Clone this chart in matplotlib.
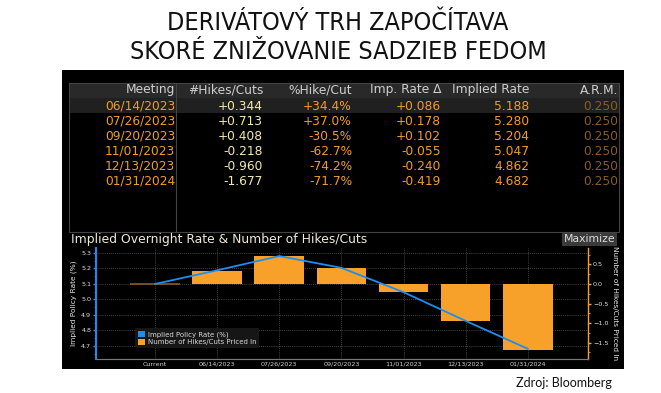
import matplotlib
matplotlib.use("Agg")
import matplotlib.pyplot as plt
from matplotlib import font_manager as fm
from matplotlib.patches import Rectangle, Patch
from matplotlib.ticker import MultipleLocator

# Slide texts
title_lines = ["DERIVÁTOVÝ TRH ZAPOČÍTAVA", "SKORÉ ZNIŽOVANIE SADZIEB FEDOM"]
source_text = "Zdroj: Bloomberg"

# Table data (Bloomberg WIRP)
headers = ["Meeting", "#Hikes/Cuts", "%Hike/Cut", "Imp. Rate Δ", "Implied Rate", "A.R.M."]
meetings = ["06/14/2023", "07/26/2023", "09/20/2023", "11/01/2023", "12/13/2023", "01/31/2024"]
hikes = [0.344, 0.713, 0.408, -0.218, -0.960, -1.677]
pct_hike = [34.4, 37.0, -30.5, -62.7, -74.2, -71.7]
rate_delta = [0.086, 0.178, 0.102, -0.055, -0.240, -0.419]
implied_rate = [5.188, 5.280, 5.204, 5.047, 4.862, 4.682]
arm = [0.250, 0.250, 0.250, 0.250, 0.250, 0.250]

# Chart data
chart_labels = ["Current"] + meetings
current_rate = 5.10
current_hikes = 0.0

ORANGE = "#f7a12a"
BLUE = "#1b8ef2"
TXT = "#f39c25"

# the slide title is in a narrow font; use a condensed face if there is one
title_font = dict(family="Lato", fontsize=17)
for f in fm.fontManager.ttflist:
    if f.name == "Liberation Sans Narrow":
        title_font = dict(family="Liberation Sans Narrow", fontsize=19.5)
        break
    if f.name == "DejaVu Sans" and "Condensed" in f.fname:
        title_font = dict(family="DejaVu Sans", stretch="condensed", fontsize=18)

fig = plt.figure(figsize=(6.61, 3.93), dpi=100)
fig.patch.set_facecolor("white")

# pixel-coordinate canvas for the slide and the terminal panel
bg = fig.add_axes([0, 0, 1, 1])
bg.set_xlim(0, 661)
bg.set_ylim(393, 0)
bg.axis("off")

for i, line in enumerate(title_lines):
    bg.text(338, 22.5 + 29.5 * i, line, ha="center", va="center",
            color="#111111", **title_font)
bg.text(612, 383, source_text, ha="right", va="center",
        fontsize=9, family="Lato", color="#111111")

bg.add_patch(Rectangle((62, 70), 562, 299, facecolor="black", edgecolor="none"))
bg.add_patch(Rectangle((69, 83), 550, 15, facecolor="#292929", edgecolor="none"))
bg.add_patch(Rectangle((69, 98), 550, 15, facecolor="#202020", edgecolor="none"))
bg.add_patch(Rectangle((69, 83), 550, 149, facecolor="none", edgecolor="#444444", lw=0.8))
bg.plot([176, 176], [83, 232], color="#444444", lw=0.8)

col_right = [175, 263, 352, 441, 529, 618]
header_y = 90
row_y0 = 106
row_step = 15.1

for x, h in zip(col_right, headers):
    bg.text(x, header_y, h, ha="right", va="center", fontsize=8.8, color="#cfcfcf")

columns = [
    ([m for m in meetings], TXT),
    ([f"{v:+.3f}" for v in hikes], "#f2eaa8"),
    ([f"{v:+.1f}%" for v in pct_hike], TXT),
    ([f"{v:+.3f}" for v in rate_delta], TXT),
    ([f"{v:.3f}" for v in implied_rate], TXT),
    ([f"{v:.3f}" for v in arm], "#8a5c22"),
]
for x, (vals, c) in zip(col_right, columns):
    for i, s in enumerate(vals):
        bg.text(x, row_y0 + row_step * i, s, ha="right", va="center",
                fontsize=8.8, color=c)

bg.text(71, 240, "Implied Overnight Rate & Number of Hikes/Cuts", ha="left",
        va="center", fontsize=8.9, color="#efe9d6")
bg.add_patch(Rectangle((562, 233), 55, 13, facecolor="#3a3a3a", edgecolor="none"))
bg.text(589.5, 239.5, "Maximize", ha="center", va="center", fontsize=7.8, color="#dddddd")

# chart
ax = fig.add_axes([96 / 661, 1 - 359 / 393, 492 / 661, 111 / 393])
ax.set_facecolor("black")
ax2 = ax.twinx()

x = list(range(len(chart_labels)))
bar_vals = [current_hikes] + hikes
rates = [current_rate] + implied_rate

ax2.bar(x[1:], bar_vals[1:], width=0.8, color=ORANGE, zorder=2)
ax2.bar(x[:1], bar_vals[:1], width=0.8, color="#8c5a1e", edgecolor="#8c5a1e", lw=1.2, zorder=2)
ax2.plot(x, rates, color=BLUE, lw=1.3, zorder=3, transform=ax.transData,
         label="Implied Policy Rate (%)")

ax.set_xlim(-0.95, 6.97)
ax.set_ylim(4.616, 5.332)
ax2.set_ylim(-1.92, 0.92)

ax.set_xticks(x)
ax.set_xticklabels(chart_labels)
ax.yaxis.set_major_locator(MultipleLocator(0.1))
ax.yaxis.set_minor_locator(MultipleLocator(0.05))
ax2.yaxis.set_major_locator(MultipleLocator(0.5))
ax2.yaxis.set_minor_locator(MultipleLocator(0.25))
ax.set_yticks([4.7, 4.8, 4.9, 5.0, 5.1, 5.2, 5.3])

ax.grid(True, which="major", color="#5a5a5a", ls=(0, (1, 1.5)), lw=0.6)
ax.set_axisbelow(True)

for a in (ax, ax2):
    a.spines["top"].set_visible(False)
    a.spines["bottom"].set_color("#777777")
    a.spines["left"].set_visible(False)
    a.spines["right"].set_visible(False)
ax.spines["left"].set_visible(True)
ax.spines["left"].set_color(BLUE)
ax.spines["left"].set_linewidth(1.4)
ax2.spines["right"].set_visible(True)
ax2.spines["right"].set_color(ORANGE)
ax2.spines["right"].set_linewidth(1.0)

ax.tick_params(axis="x", colors="#d0d0d0", labelsize=4.6, length=0, pad=2)
ax.tick_params(axis="y", which="both", colors=BLUE, labelcolor="#e0e0e0", labelsize=4.6, pad=1)
ax.tick_params(axis="y", which="major", length=2.5, width=1)
ax.tick_params(axis="y", which="minor", length=1.5, width=0.6)
ax2.tick_params(axis="y", which="both", colors=ORANGE, labelcolor="#e0e0e0", labelsize=4.6, pad=1)
ax2.tick_params(axis="y", which="major", length=2.5, width=1)
ax2.tick_params(axis="y", which="minor", length=1.5, width=0.6)

ax.set_ylabel("Implied Policy Rate (%)", color="#e8e8e8", fontsize=5.3, labelpad=3)
ax2.set_ylabel("Number of Hikes/Cuts Priced In", color="#e8e8e8", fontsize=5.3,
               rotation=-90, labelpad=7)

handles = [Patch(facecolor=BLUE, edgecolor="none", label="Implied Policy Rate (%)"),
           Patch(facecolor=ORANGE, edgecolor="none", label="Number of Hikes/Cuts Priced In")]
leg = ax2.legend(handles=handles, loc="lower left", bbox_to_anchor=(0.08, 0.1),
                 fontsize=5.0, frameon=True, facecolor="#161616", edgecolor="none",
                 framealpha=1, handlelength=1.0, handleheight=1.0, handletextpad=0.4,
                 borderpad=0.4, labelspacing=0.15, borderaxespad=0)
for t in leg.get_texts():
    t.set_color("#d8d8d8")

fig.savefig("out.png", dpi=100, facecolor=fig.get_facecolor())
